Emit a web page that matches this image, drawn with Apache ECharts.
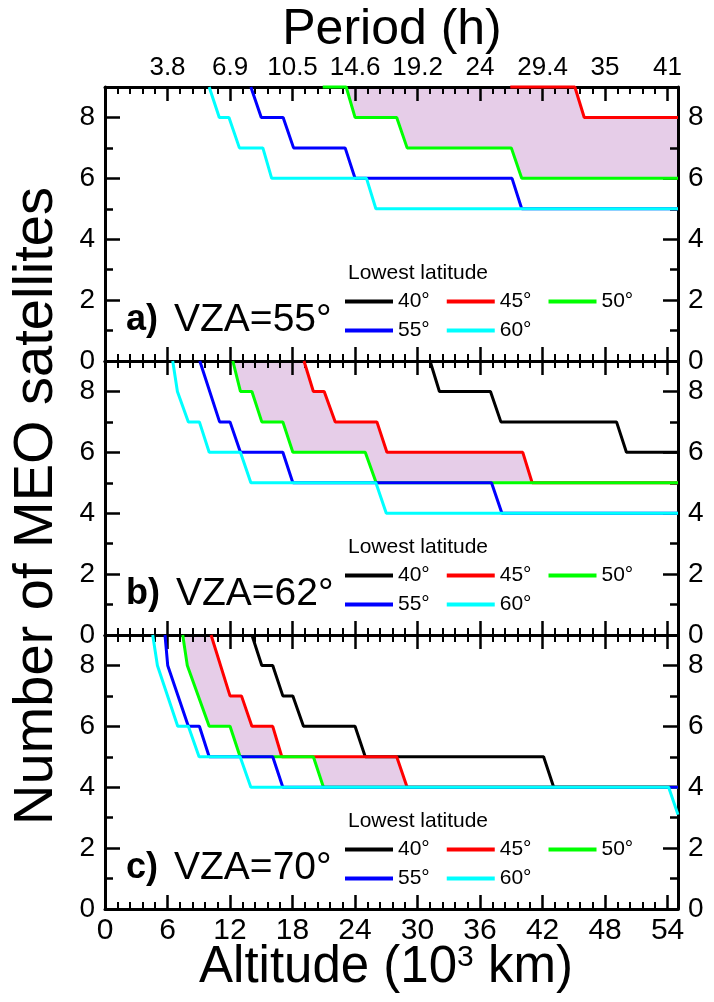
<!DOCTYPE html>
<html>
<head>
<meta charset="utf-8">
<script src="https://cdn.jsdelivr.net/npm/echarts@6/dist/echarts.min.js"></script>
<style>html,body{margin:0;padding:0;background:#fff}#chart{width:714px;height:1002px}</style>
</head>
<body>
<div id="chart"></div>
<script>
// ---------- data (altitude in 10^3 km, number of MEO satellites) ----------
const latNames = ['40°', '45°', '50°', '55°', '60°'];
const latColors = ['#000000', '#ff0000', '#00ff00', '#0000ff', '#00ffff'];
const periodLabels = ['3.8', '6.9', '10.5', '14.6', '19.2', '24', '29.4', '35', '41'];
const panelLabels = ['a)', 'b)', 'c)'];
const panelVZA = ['VZA=55°', 'VZA=62°', 'VZA=70°'];

// panel a) VZA = 55°
const a40 = [];
const a45 = [[38.9, 9], [45.1, 9], [46.0, 8], [55, 8]];
const a50 = [[20.9, 9], [23.15, 9], [24.0, 8], [28.0, 8], [29.0, 7], [39.0, 7], [40.0, 6], [55, 6]];
const a55 = [[14.0, 9], [15.0, 8], [17.1, 8], [18.1, 7], [23.05, 7], [24.0, 6], [39.07, 6], [40.0, 5], [55, 5]];
const a60 = [[10.0, 9], [10.97, 8], [11.9, 8], [12.9, 7], [15.15, 7], [16.0, 6], [25.1, 6], [26.0, 5], [55, 5]];

// panel b) VZA = 62°
const b40 = [[31.2, 9], [32.1, 8], [37.0, 8], [38.0, 7], [49.1, 7], [50.05, 6], [55, 6]];
const b45 = [[19.1, 9], [20.0, 8], [21.04, 8], [22.1, 7], [26.1, 7], [27.06, 6], [40.1, 6], [41.0, 5], [55, 5]];
const b50 = [[12.27, 9], [13.0, 8], [14.1, 8], [15.05, 7], [17.07, 7], [18.03, 6], [24.98, 6], [26.03, 5], [55, 5]];
const b55 = [[9.1, 9], [11.0, 7], [12.0, 7], [13.0, 6], [17.07, 6], [18.03, 5], [37.1, 5], [38.1, 4], [55, 4]];
const b60 = [[6.5, 9], [6.95, 8], [8.0, 7], [9.06, 7], [10.0, 6], [13.0, 6], [14.0, 5], [26.0, 5], [27.0, 4], [55, 4]];

// panel c) VZA = 70°
const c40 = [[14.1, 9], [15.05, 8], [16.1, 8], [17.07, 7], [18.03, 7], [19.05, 6], [24.0, 6], [24.98, 5], [42.1, 5], [43.07, 4], [55, 4]];
const c45 = [[10.18, 9], [12.0, 7], [13.1, 7], [14.1, 6], [16.1, 6], [16.97, 5], [28.0, 5], [29.0, 4], [55, 4]];
const c50 = [[7.46, 9], [7.9, 8], [10.0, 6], [12.0, 6], [12.97, 5], [20.0, 5], [20.97, 4], [55, 4]];
const c55 = [[5.76, 9], [6.02, 8], [8.0, 6], [9.06, 6], [10.0, 5], [16.1, 5], [17.07, 4], [55, 4]];
const c60 = [[4.58, 9], [5.03, 8], [6.98, 6], [8.0, 6], [9.03, 5], [12.97, 5], [14.0, 4], [54.1, 4], [55, 3.1]];

const panels = [[a40, a45, a50, a55, a60], [b40, b45, b50, b55, b60], [c40, c45, c50, c55, c60]];

// ---------- layout ----------
const FONT = "'Liberation Sans', Arial, Helvetica, sans-serif";
const X_MAX = 55, Y_MAX = 9;
const gridTops = [87, 361, 635];
const GRID_LEFT = 105, GRID_W = 573, GRID_H = 274;
const FILL = '#e6cde8';

function interp(arr, x, top) {
  if (!arr.length || x <= arr[0][0]) return top;
  for (let k = 1; k < arr.length; k++) {
    if (x <= arr[k][0]) {
      const [x0, y0] = arr[k - 1], [x1, y1] = arr[k];
      return x1 === x0 ? y1 : y0 + (y1 - y0) * (x - x0) / (x1 - x0);
    }
  }
  return arr[arr.length - 1][1];
}
function fillPolygon(lower, upper) {
  const xs = Array.from(new Set(lower.concat(upper).map(p => p[0])))
    .filter(x => x >= lower[0][0] && x <= X_MAX).sort((p, q) => p - q);
  const bottom = xs.map(x => [x, Math.min(Y_MAX, interp(lower, x, Y_MAX))]);
  const top = xs.map(x => [x, Math.min(Y_MAX, interp(upper, x, Y_MAX))]).reverse();
  return bottom.concat(top);
}

const axisCommon = {
  type: 'value', min: 0, z: 1,
  axisLine: { show: true, onZero: false, lineStyle: { color: '#000', width: 3 } },
  splitLine: { show: false }, minorSplitLine: { show: false }
};

const grid = [], xAxis = [], yAxis = [], series = [], legend = [], graphic = [];
gridTops.forEach((t, i) => {
  grid.push({ left: GRID_LEFT, top: t, width: GRID_W, height: GRID_H, outerBoundsMode: 'none', containLabel: false });
  const xBase = Object.assign({}, axisCommon, {
    gridIndex: i, max: X_MAX, interval: 6,
    axisTick: { show: true, inside: true, length: 14, lineStyle: { color: '#000', width: 2.5 } },
    minorTick: { show: true, splitNumber: 5, length: 7, lineStyle: { color: '#000', width: 2 } }
  });
  xAxis.push(Object.assign({}, xBase, {
    position: 'bottom',
    axisLabel: { show: i === 2, fontSize: 30, color: '#000', margin: 7, fontFamily: FONT, showMaxLabel: false, showMinLabel: true }
  }));
  xAxis.push(Object.assign({}, xBase, {
    position: 'top',
    axisLabel: { show: i === 0, fontSize: 26, color: '#000', margin: 6, fontFamily: FONT, showMaxLabel: false,
      formatter: v => periodLabels[Math.round(v / 6) - 1] || '' }
  }));
  const yBase = Object.assign({}, axisCommon, {
    gridIndex: i, max: Y_MAX, interval: 2,
    axisTick: { show: true, inside: true, length: 15, lineStyle: { color: '#000', width: 2.5 } },
    minorTick: { show: true, splitNumber: 2, length: 8, lineStyle: { color: '#000', width: 2.5 } },
    axisLabel: { show: true, fontSize: 28, color: '#000', margin: 10, fontFamily: FONT, showMaxLabel: false, showMinLabel: true }
  });
  yAxis.push(Object.assign({}, yBase, { position: 'left' }));
  yAxis.push(Object.assign({}, yBase, { position: 'right' }));

  const lines = panels[i];
  const poly = fillPolygon(lines[2], lines[1]);
  series.push({
    type: 'custom', xAxisIndex: 2 * i, yAxisIndex: 2 * i, z: 0, silent: true,
    data: [[0, 0]],
    renderItem: (params, api) => ({
      type: 'polygon',
      shape: { points: poly.map(p => api.coord(p)) },
      style: { fill: FILL, stroke: null }
    })
  });
  lines.forEach((d, k) => {
    series.push({
      type: 'line', name: latNames[k], xAxisIndex: 2 * i, yAxisIndex: 2 * i,
      data: d, symbol: 'none', showSymbol: false, clip: false, z: 2,
      color: latColors[k],
      lineStyle: { color: latColors[k], width: 3 },
      itemStyle: { color: latColors[k] }
    });
  });

  const legendCommon = {
    left: 345, orient: 'horizontal', padding: 0, icon: 'rect', itemWidth: 48, itemHeight: 4,
    itemGap: 17, selectedMode: false,
    textStyle: { fontSize: 21, color: '#000', fontFamily: FONT, width: 36 }
  };
  legend.push(Object.assign({}, legendCommon, { top: t + 215 - 11, data: latNames.slice(0, 3) }));
  legend.push(Object.assign({}, legendCommon, { top: t + 244 - 11, data: latNames.slice(3) }));

  graphic.push({
    type: 'text', x: 418, y: t + 186, z: 10,
    style: { text: 'Lowest latitude', fontSize: 21, fontFamily: FONT, fill: '#000', textAlign: 'center', textVerticalAlign: 'middle' }
  });
  graphic.push({
    type: 'text', x: 126, y: t + 233, z: 10,
    style: {
      text: '{b|' + panelLabels[i] + '}{n|' + panelVZA[i] + '}',
      textVerticalAlign: 'middle', textAlign: 'left',
      rich: {
        b: { fontSize: 36, fontWeight: 'bold', fontFamily: FONT, fill: '#000', padding: [0, 16, 0, 0] },
        n: { fontSize: 39, fontFamily: FONT, fill: '#000' }
      }
    }
  });
});

graphic.push({
  type: 'text', x: 392, y: 30, z: 10,
  style: { text: 'Period (h)', fontSize: 50, fontFamily: FONT, fill: '#000', textAlign: 'center', textVerticalAlign: 'middle' }
});
graphic.push({
  type: 'text', x: 386, y: 968, z: 10,
  style: {
    text: 'Altitude (10{sup|3} km)', fontSize: 51, fontFamily: FONT, fill: '#000',
    textAlign: 'center', textVerticalAlign: 'middle',
    rich: { sup: { fontSize: 30, fontFamily: FONT, fill: '#000', verticalAlign: 'top' } }
  }
});
graphic.push({
  type: 'text', x: 37, y: 506, rotation: Math.PI / 2, z: 10,
  style: { text: 'Number of MEO satellites', fontSize: 56, fontFamily: FONT, fill: '#000', textAlign: 'center', textVerticalAlign: 'middle' }
});

const chart = echarts.init(document.getElementById('chart'), null, { renderer: 'canvas' });
chart.setOption({
  animation: false,
  backgroundColor: '#fff',
  grid, xAxis, yAxis, series, legend, graphic
});
</script>
</body>
</html>
